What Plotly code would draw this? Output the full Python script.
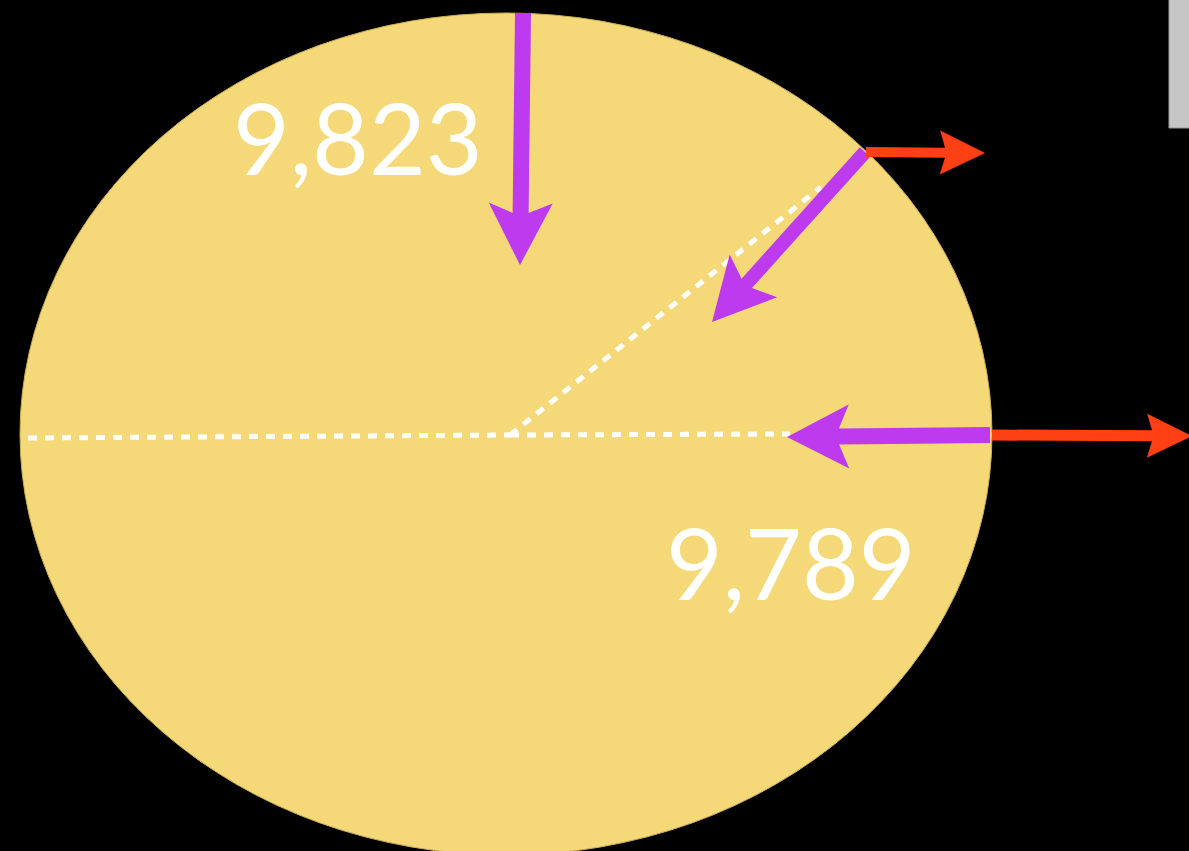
import math
import plotly.graph_objects as go

# ---- content ----
labels = ["9,823", "9,789"]
label_x = [358, 791]
label_y = [137, 562]

# ellipse (pie body) geometry, page pixels
ellipse_cx = 506
ellipse_cy = 434
ellipse_rx = 486
ellipse_ry = 421

# dashed dividers: (x0, y0, x1, y1)
divider_x0 = [28, 510, 510]
divider_y0 = [438, 435, 435]
divider_x1 = [510, 790, 821]
divider_y1 = [435, 434, 187]

# purple arrows (pointing inward)
purple_x0 = [523, 865, 990]
purple_y0 = [13, 152, 435]
purple_x1 = [520, 712, 787]
purple_y1 = [265, 322, 437]
purple_shaft = [16, 14, 16]

# red arrows (pointing outward)
red_x0 = [866, 992]
red_y0 = [152, 435]
red_x1 = [985, 1192]
red_y1 = [153, 436]
red_shaft = [10, 11]

YELLOW = "#F5D877"
PURPLE = "#BD3AEE"
RED = "#FF4014"


def arrow_poly(x0, y0, x1, y1, shaft, head_len, head_half, notch):
    L = math.hypot(x1 - x0, y1 - y0)
    ux, uy = (x1 - x0) / L, (y1 - y0) / L
    px, py = -uy, ux
    bx, by = x1 - ux * head_len, y1 - uy * head_len
    jx, jy = x1 - ux * (head_len - notch), y1 - uy * (head_len - notch)
    s = shaft / 2
    xs = [x0 + px * s, jx + px * s, bx + px * head_half, x1,
          bx - px * head_half, jx - px * s, x0 - px * s, x0 + px * s]
    ys = [y0 + py * s, jy + py * s, by + py * head_half, y1,
          by - py * head_half, jy - py * s, y0 - py * s, y0 + py * s]
    return xs, ys


fig = go.Figure()

# dashed dividers
for a, b, c, d in zip(divider_x0, divider_y0, divider_x1, divider_y1):
    fig.add_trace(go.Scatter(x=[a, c], y=[b, d], mode="lines",
                             line=dict(color="white", width=5, dash="9px,8px"),
                             hoverinfo="skip", showlegend=False))

# purple arrows
for a, b, c, d, w in zip(purple_x0, purple_y0, purple_x1, purple_y1, purple_shaft):
    xs, ys = arrow_poly(a, b, c, d, w, 62, 32, 10)
    fig.add_trace(go.Scatter(x=xs, y=ys, mode="lines", fill="toself",
                             fillcolor=PURPLE, line=dict(width=0, color=PURPLE),
                             hoverinfo="skip", showlegend=False))

# red arrows
for a, b, c, d, w in zip(red_x0, red_y0, red_x1, red_y1, red_shaft):
    xs, ys = arrow_poly(a, b, c, d, w, 45, 22, 5)
    fig.add_trace(go.Scatter(x=xs, y=ys, mode="lines", fill="toself",
                             fillcolor=RED, line=dict(width=0, color=RED),
                             hoverinfo="skip", showlegend=False))

# labels
for t, x, y in zip(labels, label_x, label_y):
    fig.add_annotation(x=x, y=y, text=t, showarrow=False,
                       xanchor="center", yanchor="middle",
                       font=dict(family="Lato", size=98, color="white"))

# ellipse body
fig.add_shape(type="circle", layer="below",
              x0=ellipse_cx - ellipse_rx, x1=ellipse_cx + ellipse_rx,
              y0=ellipse_cy - ellipse_ry, y1=ellipse_cy + ellipse_ry,
              fillcolor=YELLOW, line=dict(color="#C9AE55", width=1))

# grey tab top right
fig.add_shape(type="rect", layer="below", x0=1169, x1=1190, y0=-2, y1=128,
              fillcolor="#C6C6C6", line=dict(color="#9A9A9A", width=1))

fig.update_xaxes(range=[0, 1189], visible=False, fixedrange=True)
fig.update_yaxes(range=[851, 0], visible=False, fixedrange=True)
fig.update_layout(width=1189, height=851, margin=dict(l=0, r=0, t=0, b=0),
                  paper_bgcolor="black", plot_bgcolor="black",
                  showlegend=False)

fig.write_html("out.html", config={"displayModeBar": False},
               post_script="document.body.style.margin='0';"
                           "document.body.style.background='black';"
                           "document.documentElement.style.background='black';")
